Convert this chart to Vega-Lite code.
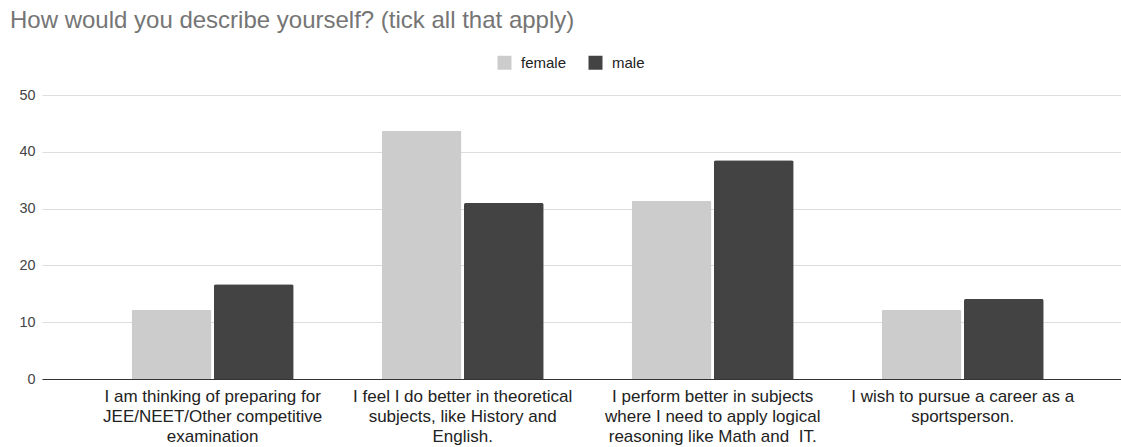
{
  "$schema": "https://vega.github.io/schema/vega-lite/v6.json",
  "width": 1079,
  "height": 284,
  "autosize": {"type": "none"},
  "padding": {"left": 42, "top": 95, "right": 0, "bottom": 68},
  "background": "#ffffff",
  "title": {
    "text": "How would you describe yourself? (tick all that apply)",
    "anchor": "start",
    "frame": "group",
    "dx": -32,
    "offset": 22,
    "fontSize": 24,
    "font": "Liberation Sans",
    "fontWeight": "normal",
    "color": "#757575"
  },
  "data": {
    "values": [
      {"category": "I am thinking of preparing for JEE/NEET/Other competitive examination", "gender": "female", "count": 12.2},
      {"category": "I am thinking of preparing for JEE/NEET/Other competitive examination", "gender": "male", "count": 16.7},
      {"category": "I feel I do better in theoretical subjects, like History and English.", "gender": "female", "count": 43.7},
      {"category": "I feel I do better in theoretical subjects, like History and English.", "gender": "male", "count": 31},
      {"category": "I perform better in subjects where I need to apply logical reasoning like Math and  IT.", "gender": "female", "count": 31.4},
      {"category": "I perform better in subjects where I need to apply logical reasoning like Math and  IT.", "gender": "male", "count": 38.5},
      {"category": "I wish to pursue a career as a sportsperson.", "gender": "female", "count": 12.2},
      {"category": "I wish to pursue a career as a sportsperson.", "gender": "male", "count": 14.1}
    ]
  },
  "mark": {"type": "bar", "cornerRadiusEnd": 2},
  "encoding": {
    "x": {
      "field": "category",
      "type": "nominal",
      "sort": null,
      "title": null,
      "scale": {"paddingInner": 0.352, "paddingOuter": 0.334, "align": 0.537},
      "axis": {
        "labelAngle": 0,
        "labelFont": "Liberation Sans",
        "labelFontSize": 17,
        "labelColor": "#222222",
        "labelLineHeight": 20,
        "labelLimit": 0,
        "labelPadding": 9,
        "labelBaseline": "top",
        "ticks": false,
        "domainColor": "#333333",
        "domainWidth": 1,
        "grid": false,
        "labelExpr": "indexof(datum.label, 'I am') == 0 ? ['I am thinking of preparing for', 'JEE/NEET/Other competitive', 'examination'] : indexof(datum.label, 'I feel') == 0 ? ['I feel I do better in theoretical', 'subjects, like History and', 'English.'] : indexof(datum.label, 'I perform') == 0 ? ['I perform better in subjects', 'where I need to apply logical', 'reasoning like Math and \u00a0IT.'] : ['I wish to pursue a career as a', 'sportsperson.']"
      }
    },
    "xOffset": {
      "field": "gender",
      "type": "nominal",
      "scale": {"paddingInner": 0.03}
    },
    "y": {
      "field": "count",
      "type": "quantitative",
      "title": null,
      "scale": {"domain": [0, 50], "nice": false},
      "axis": {
        "values": [0, 10, 20, 30, 40, 50],
        "domain": false,
        "ticks": false,
        "labelFont": "Liberation Sans",
        "labelFontSize": 14.4,
        "labelColor": "#444444",
        "labelPadding": 7,
        "gridColor": "#dddddd",
        "gridWidth": 1
      }
    },
    "color": {
      "field": "gender",
      "type": "nominal",
      "scale": {"domain": ["female", "male"], "range": ["#cccccc", "#434343"]},
      "legend": {
        "title": null,
        "orient": "none",
        "direction": "horizontal",
        "legendX": 455,
        "legendY": -40,
        "padding": 0,
        "symbolType": "square",
        "symbolSize": 196,
        "symbolStrokeWidth": 0,
        "labelFont": "Liberation Sans",
        "labelFontSize": 15,
        "labelColor": "#222222",
        "labelOffset": 9,
        "columnPadding": 21
      }
    }
  },
  "config": {"view": {"stroke": null}}
}
